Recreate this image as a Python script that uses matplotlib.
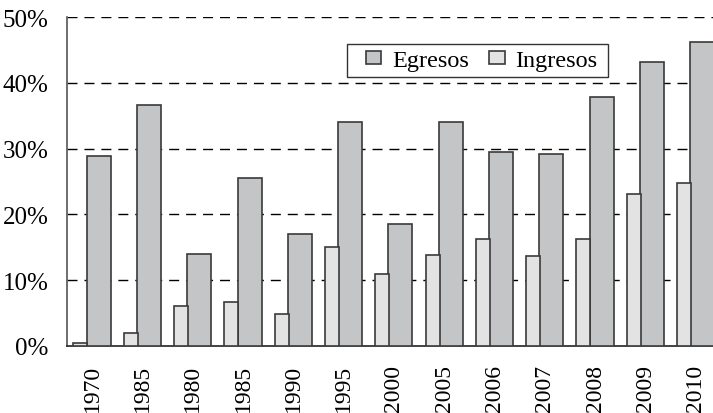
import matplotlib
matplotlib.use("Agg")
import matplotlib.pyplot as plt
from matplotlib.patches import Rectangle
import numpy as np

years = ["1970", "1985", "1980", "1985", "1990", "1995", "2000",
         "2005", "2006", "2007", "2008", "2009", "2010"]
egresos = [28.9, 36.7, 13.9, 25.6, 17.0, 34.1, 18.5, 34.0, 29.5, 29.2, 37.9, 43.2, 46.3]
ingresos = [0.4, 1.9, 6.0, 6.6, 4.8, 15.0, 10.9, 13.8, 16.3, 13.6, 16.3, 23.1, 24.8]

plt.rcParams["font.family"] = ["Liberation Serif", "DejaVu Serif"]

fig = plt.figure(figsize=(7.13, 4.14), dpi=100)
ax = fig.add_axes([0.0935, 0.1626, 0.9065, 0.7932])

x = np.arange(len(years))
edge = "#3a3a3a"
b_eg = ax.bar(x + 0.131, egresos, width=0.477, color="#c4c5c7", edgecolor=edge,
              linewidth=1.2, label="Egresos", zorder=3)
b_in = ax.bar(x - 0.232, ingresos, width=0.278, color="#e2e3e2", edgecolor=edge,
              linewidth=1.2, label="Ingresos", zorder=3)

ax.set_xlim(-0.504, 12.343)
ax.set_ylim(0, 50)
ax.set_yticks([0, 10, 20, 30, 40, 50])
ax.set_yticklabels([f"{v}%" for v in range(0, 60, 10)], fontsize=18)
ax.set_xticks(x)
ax.set_xticklabels(years, rotation=90, fontsize=17)
ax.tick_params(axis="both", length=0)
ax.tick_params(axis="y", pad=13)
ax.tick_params(axis="x", pad=13)

for v in range(10, 60, 10):
    ax.axhline(v, color="black", linewidth=1.0, linestyle=(0, (7.2, 5)), zorder=1)

for s in ["top", "right"]:
    ax.spines[s].set_visible(False)
ax.spines["left"].set_color("#555555")
ax.spines["left"].set_linewidth(1.2)
ax.spines["bottom"].set_color("#222222")
ax.spines["bottom"].set_linewidth(1.2)

# legend box drawn separately so the side padding can be wider than the top/bottom
ax.add_patch(Rectangle((0.433, 0.818), 0.4046, 0.1007, transform=ax.transAxes,
                       facecolor="white", edgecolor="#333333", linewidth=1.0,
                       zorder=4))
leg = ax.legend(handles=[b_eg, b_in], ncol=2, loc="center left",
                bbox_to_anchor=(0.463, 0.868), fontsize=17.5, frameon=False,
                handlelength=0.62, handleheight=0.45, handletextpad=0.45,
                columnspacing=0.85, borderpad=0, borderaxespad=0)
leg.set_zorder(5)

fig.savefig("out.png", dpi=100)
